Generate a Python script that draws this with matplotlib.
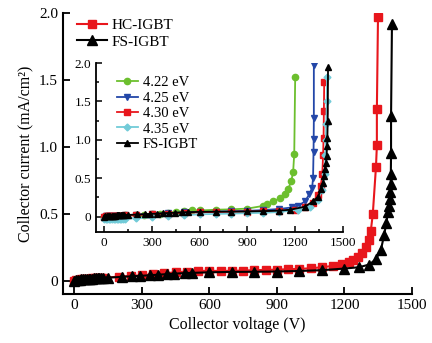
import matplotlib
matplotlib.use('Agg')
import matplotlib.pyplot as plt
from matplotlib.ticker import MultipleLocator

plt.rcParams['font.family'] = ['Liberation Serif', 'DejaVu Serif']

# main plot data
hc_v = [0, 10, 20, 30, 40, 50, 60, 70, 80, 90, 100, 110, 120, 130,
        200, 250, 300, 350, 400, 450, 500, 550, 600, 650, 700, 750, 800, 850, 900, 950, 1000, 1050, 1100, 1150,
        1190, 1220, 1240, 1260, 1280, 1295, 1308, 1317, 1326, 1340, 1344, 1344, 1349]
hc_i = [0.0, 0.005, 0.008, 0.01, 0.012, 0.013, 0.014, 0.015, 0.016, 0.017, 0.018, 0.019, 0.02, 0.021,
        0.03, 0.035, 0.04, 0.048, 0.055, 0.062, 0.068, 0.072, 0.073, 0.072, 0.073, 0.075, 0.078, 0.08, 0.082, 0.085, 0.088, 0.092, 0.1, 0.11,
        0.125, 0.14, 0.155, 0.175, 0.21, 0.25, 0.30, 0.37, 0.50, 0.85, 1.01, 1.28, 1.97]

fs_v = [0, 8, 16, 24, 32, 40, 48, 56, 64, 72, 80, 88, 96, 104, 112, 120, 128,
        150, 210, 255, 290, 335, 370, 410, 445, 490, 525,
        600, 700, 800, 900, 1000, 1100, 1200,
        1265, 1310, 1340, 1362, 1376, 1386, 1393, 1398, 1402, 1404, 1405, 1406, 1407, 1407, 1411]
fs_i = [0.0, 0.004, 0.006, 0.008, 0.009, 0.01, 0.011, 0.012, 0.013, 0.014, 0.015, 0.016, 0.017, 0.018, 0.019, 0.02, 0.021,
        0.022, 0.028, 0.032, 0.035, 0.04, 0.044, 0.048, 0.052, 0.056, 0.058,
        0.062, 0.065, 0.066, 0.068, 0.072, 0.078, 0.09,
        0.1, 0.12, 0.16, 0.23, 0.34, 0.43, 0.51, 0.56, 0.61, 0.66, 0.72, 0.80, 0.95, 1.23, 1.92]

# inset data
g422_v = [0, 10, 20, 30, 40, 50, 60, 70, 80, 90, 100, 110, 120, 130,
          200, 250, 300, 350, 400, 450, 500, 550, 600, 700, 800, 900, 1000,
          1025, 1062, 1106, 1137, 1156, 1175, 1187, 1194, 1200]
g422_i = [0.0, 0.002, 0.004, 0.005, 0.006, 0.007, 0.008, 0.009, 0.01, 0.011, 0.012, 0.013, 0.014, 0.015,
          0.02, 0.025, 0.03, 0.04, 0.05, 0.06, 0.07, 0.08, 0.08, 0.09, 0.095, 0.105, 0.14,
          0.16, 0.2, 0.24, 0.29, 0.36, 0.46, 0.58, 0.82, 1.82]

b425_v = [0, 10, 20, 30, 40, 50, 60, 70, 80, 90, 100, 110, 120, 130,
          200, 300, 400, 500, 600, 700, 800, 900, 1000, 1100,
          1181, 1219, 1262, 1288, 1306, 1312, 1315, 1316, 1317, 1317]
b425_i = [0.0, 0.002, 0.004, 0.005, 0.006, 0.007, 0.008, 0.009, 0.01, 0.011, 0.012, 0.013, 0.014, 0.015,
          0.025, 0.035, 0.045, 0.055, 0.06, 0.065, 0.07, 0.075, 0.085, 0.1,
          0.12, 0.14, 0.2, 0.29, 0.37, 0.5, 0.84, 1.01, 1.28, 1.97]

r430_v = [0, 10, 20, 30, 40, 50, 60, 70, 80, 90, 100, 110, 120, 130,
          200, 300, 400, 500, 600, 700, 800, 900, 1000, 1100, 1200,
          1260, 1310, 1340, 1360, 1370, 1375, 1378, 1380, 1382]
r430_i = [0.0, 0.002, 0.004, 0.005, 0.006, 0.007, 0.008, 0.009, 0.01, 0.011, 0.012, 0.013, 0.014, 0.015,
          0.02, 0.03, 0.04, 0.05, 0.055, 0.06, 0.063, 0.066, 0.07, 0.078, 0.09,
          0.12, 0.18, 0.28, 0.4, 0.55, 0.8, 1.03, 1.38, 1.75]

c435_v = [0, 10, 20, 30, 40, 50, 60, 70, 80, 90, 100, 110, 120, 130,
          200, 300, 400, 500, 600, 700, 800, 900, 1000, 1100, 1220,
          1290, 1340, 1370, 1385, 1390, 1392, 1395, 1398, 1400]
c435_i = [-0.03, -0.03, -0.03, -0.03, -0.03, -0.03, -0.03, -0.03, -0.03, -0.03, -0.03, -0.03, -0.03, -0.03,
          -0.02, -0.01, 0.01, 0.02, 0.03, 0.035, 0.04, 0.045, 0.05, 0.06, 0.09,
          0.13, 0.22, 0.35, 0.55, 0.8, 1.0, 1.2, 1.5, 1.82]

fsi_v = [0, 8, 16, 24, 32, 40, 48, 56, 64, 72, 80, 88, 96, 104, 112, 120, 128,
         150, 210, 255, 290, 335, 370, 410, 445, 490, 525,
         600, 700, 800, 900, 1000, 1100, 1169,
         1262, 1312, 1344, 1362, 1374, 1381, 1387, 1394, 1397, 1400, 1402, 1404, 1406]
fsi_i = [0.0, 0.004, 0.006, 0.008, 0.009, 0.01, 0.011, 0.012, 0.013, 0.014, 0.015, 0.016, 0.017, 0.018, 0.019, 0.02, 0.021,
         0.022, 0.028, 0.032, 0.035, 0.04, 0.044, 0.048, 0.052, 0.056, 0.058,
         0.062, 0.065, 0.066, 0.068, 0.072, 0.078, 0.09,
         0.13, 0.2, 0.26, 0.36, 0.44, 0.53, 0.62, 0.7, 0.79, 0.92, 1.03, 1.24, 1.95]

red = '#e8161c'
green = '#6cbf2e'
blue = '#2347a8'
cyan = '#72cbd8'

fig = plt.figure(figsize=(4.32, 3.43), dpi=100)
ax = fig.add_axes([0.1458, 0.1429, 0.8079, 0.8192])

ax.plot(hc_v, hc_i, color=red, marker='s', ms=5.5, lw=1.5, label='HC-IGBT')
ax.plot(fs_v, fs_i, color='black', marker='^', ms=7, lw=1.5, label='FS-IGBT')

ax.set_xlim(-50, 1500)
ax.set_ylim(-0.1, 2.0)
ax.set_xticks([0, 300, 600, 900, 1200, 1500])
ax.set_yticks([0, 0.5, 1.0, 1.5, 2.0])
ax.set_yticklabels(['0', '0.5', '1.0', '1.5', '2.0'])
ax.tick_params(direction='in', length=5, width=1.3, labelsize=11)
for s in ['top', 'right']:
    ax.spines[s].set_visible(False)
for s in ['left', 'bottom']:
    ax.spines[s].set_linewidth(1.5)
ax.set_xlabel('Collector voltage (V)', fontsize=11.5)
ax.set_ylabel('Collector current (mA/cm²)', fontsize=11.5)
ax.legend(loc='upper left', bbox_to_anchor=(0.0, 1.03), frameon=False, fontsize=11,
          handlelength=2.0, handletextpad=0.3, labelspacing=0.2)

ins = fig.add_axes([0.2222, 0.3236, 0.5718, 0.4927])
ins.plot(g422_v, g422_i, color=green, marker='o', ms=4.5, lw=1.3, label='4.22 eV')
ins.plot(b425_v, b425_i, color=blue, marker='v', ms=5, lw=1.3, label='4.25 eV')
ins.plot(r430_v, r430_i, color=red, marker='s', ms=4, lw=1.3, label='4.30 eV')
ins.plot(c435_v, c435_i, color=cyan, marker='D', ms=3.5, lw=1.3, label='4.35 eV')
ins.plot(fsi_v, fsi_i, color='black', marker='^', ms=5, lw=1.3, label='FS-IGBT')

ins.set_xlim(-50, 1500)
ins.set_ylim(-0.2, 2.0)
ins.set_xticks([0, 300, 600, 900, 1200, 1500])
ins.set_yticks([0, 0.5, 1.0, 1.5, 2.0])
ins.set_yticklabels(['0', '0.5', '1.0', '1.5', '2.0'])
ins.xaxis.set_minor_locator(MultipleLocator(150))
ins.yaxis.set_minor_locator(MultipleLocator(0.25))
ins.tick_params(which='both', direction='in', width=1.1, labelsize=9.5)
ins.tick_params(which='major', length=4)
ins.tick_params(which='minor', length=2.5)
for s in ['top', 'right']:
    ins.spines[s].set_visible(False)
for s in ['left', 'bottom']:
    ins.spines[s].set_linewidth(1.3)
ins.patch.set_alpha(0)
ins.legend(loc='upper left', bbox_to_anchor=(0.03, 1.0), frameon=False, fontsize=10.5,
           handlelength=1.5, handletextpad=0.3, labelspacing=0.15)

fig.savefig('out.png', dpi=100)
